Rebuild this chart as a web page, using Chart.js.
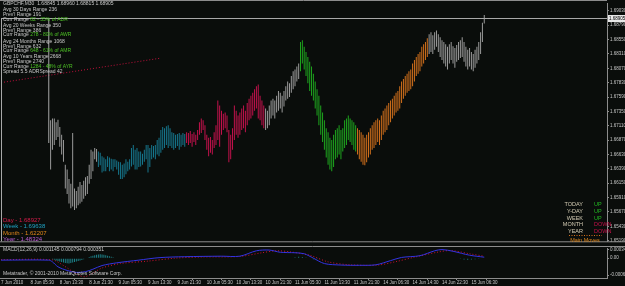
<!DOCTYPE html>
<html lang="en">
<head>
<meta charset="UTF-8">
<title>GBPCHF,M30</title>
<script src="https://cdn.jsdelivr.net/npm/chart.js@4/dist/chart.umd.min.js"></script>
<style>
  html, body { margin: 0; padding: 0; background: #0a0d0b; }
  #wrap { position: relative; width: 625px; height: 286px; overflow: hidden; background: #0a0d0b; }
  #price { position: absolute; left: 0; top: 0; }
  #macd { position: absolute; left: 0; top: 245px; }
</style>
</head>
<body>
<div id="wrap">
  <canvas id="price" width="625" height="245"></canvas>
  <canvas id="macd" width="625" height="41"></canvas>
</div>
<script>
// ---- price data (M30 bars, high / low), first drawn bar is index 27 ----
const firstBar = 27;
const barHigh = [
  1.6720,1.6723,1.6723,1.6717,1.6721,1.6709,1.6696,1.6687,1.6646,1.6638,
  1.6622,1.6614,1.6699,1.6606,1.6602,1.6609,1.6617,1.6612,1.6619,1.6625,
  1.6627,1.6646,1.6671,1.6668,1.6674,1.6672,1.6668,1.6666,1.6660,1.6658,
  1.6655,1.6660,1.6658,1.6656,1.6655,1.6655,1.6653,1.6651,1.6650,1.6646,
  1.6648,1.6655,1.6651,1.6655,1.6674,1.6679,1.6671,1.6674,1.6668,1.6668,
  1.6664,1.6671,1.6679,1.6679,1.6674,1.6679,1.6677,1.6679,1.6687,1.6691,
  1.6704,1.6709,1.6707,1.6710,1.6712,1.6707,1.6700,1.6699,1.6696,1.6697,
  1.6699,1.6696,1.6699,1.6697,1.6700,1.6699,1.6702,1.6697,1.6700,1.6696,
  1.6704,1.6717,1.6723,1.6720,1.6712,1.6696,1.6691,1.6692,1.6687,1.6700,
  1.6712,1.6753,1.6745,1.6736,1.6731,1.6733,1.6728,1.6704,1.6696,1.6707,
  1.6745,1.6736,1.6728,1.6733,1.6740,1.6745,1.6736,1.6749,1.6756,1.6761,
  1.6766,1.6772,1.6777,1.6780,1.6761,1.6753,1.6745,1.6740,1.6736,1.6745,
  1.6753,1.6756,1.6753,1.6761,1.6769,1.6766,1.6761,1.6769,1.6777,1.6785,
  1.6782,1.6794,1.6802,1.6805,1.6810,1.6815,1.6851,1.6854,1.6843,1.6834,
  1.6826,1.6818,1.6810,1.6798,1.6785,1.6772,1.6761,1.6745,1.6733,1.6720,
  1.6707,1.6700,1.6691,1.6687,1.6696,1.6704,1.6707,1.6712,1.6704,1.6707,
  1.6720,1.6723,1.6728,1.6723,1.6720,1.6717,1.6712,1.6707,1.6704,1.6700,
  1.6696,1.6691,1.6696,1.6700,1.6707,1.6712,1.6717,1.6720,1.6723,1.6720,
  1.6728,1.6736,1.6740,1.6745,1.6749,1.6753,1.6756,1.6761,1.6766,1.6769,
  1.6777,1.6785,1.6789,1.6794,1.6798,1.6802,1.6805,1.6815,1.6821,1.6826,
  1.6831,1.6834,1.6843,1.6847,1.6851,1.6857,1.6864,1.6867,1.6862,1.6867,
  1.6870,1.6864,1.6859,1.6854,1.6851,1.6847,1.6843,1.6847,1.6851,1.6844,
  1.6841,1.6846,1.6851,1.6854,1.6859,1.6851,1.6843,1.6838,1.6841,1.6834,
  1.6831,1.6838,1.6843,1.6851,1.6867,1.6883,1.6896
];
const barLow = [
  1.6638,1.6671,1.6679,1.6687,1.6692,1.6676,1.6663,1.6651,1.6606,1.6597,
  1.6581,1.6573,1.6576,1.6570,1.6573,1.6578,1.6581,1.6584,1.6589,1.6594,
  1.6597,1.6614,1.6622,1.6635,1.6655,1.6651,1.6642,1.6645,1.6633,1.6635,
  1.6635,1.6642,1.6635,1.6638,1.6635,1.6642,1.6638,1.6629,1.6622,1.6622,
  1.6625,1.6630,1.6635,1.6638,1.6643,1.6646,1.6638,1.6638,1.6642,1.6643,
  1.6646,1.6651,1.6655,1.6633,1.6642,1.6655,1.6658,1.6655,1.6663,1.6660,
  1.6666,1.6671,1.6674,1.6679,1.6674,1.6677,1.6674,1.6671,1.6674,1.6677,
  1.6671,1.6676,1.6679,1.6676,1.6682,1.6679,1.6682,1.6676,1.6684,1.6679,
  1.6687,1.6696,1.6699,1.6704,1.6687,1.6671,1.6660,1.6666,1.6663,1.6674,
  1.6679,1.6687,1.6676,1.6696,1.6704,1.6707,1.6700,1.6650,1.6655,1.6671,
  1.6687,1.6696,1.6691,1.6696,1.6704,1.6707,1.6700,1.6712,1.6720,1.6723,
  1.6728,1.6736,1.6740,1.6723,1.6720,1.6712,1.6707,1.6704,1.6707,1.6712,
  1.6723,1.6728,1.6723,1.6733,1.6736,1.6740,1.6733,1.6743,1.6753,1.6756,
  1.6759,1.6766,1.6772,1.6777,1.6785,1.6789,1.6802,1.6815,1.6805,1.6794,
  1.6782,1.6769,1.6761,1.6753,1.6740,1.6728,1.6712,1.6696,1.6684,1.6671,
  1.6658,1.6646,1.6638,1.6635,1.6642,1.6655,1.6658,1.6663,1.6655,1.6668,
  1.6674,1.6679,1.6687,1.6684,1.6679,1.6671,1.6668,1.6663,1.6655,1.6651,
  1.6646,1.6645,1.6650,1.6658,1.6663,1.6671,1.6674,1.6679,1.6684,1.6679,
  1.6687,1.6696,1.6700,1.6704,1.6712,1.6717,1.6723,1.6728,1.6733,1.6736,
  1.6740,1.6749,1.6756,1.6761,1.6766,1.6769,1.6772,1.6777,1.6785,1.6794,
  1.6798,1.6802,1.6810,1.6815,1.6821,1.6826,1.6831,1.6834,1.6831,1.6838,
  1.6843,1.6834,1.6826,1.6821,1.6815,1.6810,1.6805,1.6815,1.6821,1.6815,
  1.6808,1.6818,1.6821,1.6824,1.6826,1.6818,1.6810,1.6805,1.6810,1.6805,
  1.6802,1.6808,1.6815,1.6821,1.6831,1.6851,1.6882
];

// colour segments of the bars (start index + colour)
const segStart = [27, 53, 101, 144, 163, 194, 233];
const segColor = ['#9a9a9a', '#16778e', '#c2124c', '#9a9a9a', '#1ea51e', '#d2701c', '#9a9a9a'];

const bidPrice = 1.68905;
const markerX = [26];
const markerLow = [1.6682];
const trendX = [0, 87];
const trendY = [1.6783, 1.6824];

const yTicks = [1.69030,1.68790,1.68550,1.68310,1.68070,1.67830,1.67590,1.67350,1.67110,
                1.66870,1.66630,1.66390,1.66150,1.65910,1.65670,1.65430,1.65190];
const xLabels = ['7 Jun 2010','8 Jun 05:30','8 Jun 13:30','8 Jun 21:30','9 Jun 05:30','9 Jun 13:30',
                 '9 Jun 21:30','10 Jun 05:30','10 Jun 13:30','10 Jun 21:30','11 Jun 05:30','11 Jun 13:30',
                 '11 Jun 21:30','14 Jun 06:30','14 Jun 14:30','14 Jun 22:30','15 Jun 06:30'];

// ---- MACD panel ----
const macdX = [0,26,28,31,36,41,46,50,55,63,75,86,100,120,130,139,146,152,160,165,170,176,185,195,204,212,218,228,236,240,246,255,263];
const macdMain = [-0.00008,-0.00008,-0.00015,-0.00035,-0.0005,-0.00058,-0.00055,-0.00045,-0.0003,-0.00019,-0.00008,0.00002,
                  0.00006,0.00008,0.00008,0.0003,0.00033,0.00024,0.00022,0.00018,0,-0.00022,-0.00028,-0.00029,-0.00027,
                  -0.0001,0.00003,0.0001,0.0003,0.00035,0.00028,0.00012,0.00004];
const signalX = [0,28,34,42,46,55,65,80,95,110,130,142,150,158,168,178,190,205,215,225,238,245,255,263];
const signalVal = [-0.00006,-0.00007,-0.0003,-0.00068,-0.00075,-0.0004,-0.00022,-0.00012,0,0.00005,0.00007,0.00022,
                   0.0003,0.00025,0.00012,-0.00015,-0.00027,-0.00028,-0.00014,0.00004,0.00025,0.00031,0.00018,0.00008];
const histX = [28,29,30,31,32,33,34,35,36,37,38,39,40,41,42,43,44,45,
               48,49,50,51,52,53,54,55,56,57,58,59,60,61,62,
               160,162,164,166,168,170,172,
               250,252,254,256,258,260,262];
const histVal = [-0.00004,-0.00006,-0.00009,-0.00012,-0.00014,-0.00016,-0.00018,-0.0002,-0.00021,-0.00022,-0.0002,-0.00018,-0.00016,-0.00014,-0.00012,-0.0001,-0.00007,-0.00004,
                 0.00005,0.00008,0.0001,0.00012,0.00014,0.00015,0.00016,0.00015,0.00014,0.00012,0.0001,0.00008,0.00006,0.00004,0.00002,
                 0.00004,0.00006,0.00005,0.00003,-0.00002,-0.00004,-0.00003,
                 -0.00003,-0.00005,-0.00006,-0.00005,-0.00004,-0.00003,-0.00002];
const macdTicks = [0.000346, 0, -0.000687];

const FONT = '"Liberation Sans", Arial, sans-serif';
const AXIS = '#8c8c8c';
const TXT = '#c8c8c8';
const X_MAX = 329.8;

function segColorFor(idx) {
  let c = segColor[0];
  segStart.forEach((s, k) => { if (idx >= s) c = segColor[k]; });
  return c;
}

function text(ctx, s, x, y, color, size, align) {
  ctx.font = size + 'px ' + FONT;
  ctx.fillStyle = color;
  ctx.textAlign = align || 'left';
  ctx.textBaseline = 'middle';
  ctx.fillText(s, x, y);
  return ctx.measureText(s).width;
}

const priceOverlay = {
  id: 'priceOverlay',
  afterDraw(chart) {
    const { ctx, chartArea: a, scales } = chart;
    ctx.save();
    ctx.strokeStyle = AXIS;
    ctx.lineWidth = 1;
    ctx.beginPath();
    ctx.moveTo(0, 0.5); ctx.lineTo(a.right, 0.5);
    ctx.moveTo(0, a.bottom + 0.5); ctx.lineTo(625, a.bottom + 0.5);
    ctx.stroke();

    // bid line
    const yb = Math.round(scales.y.getPixelForValue(bidPrice)) + 0.5;
    ctx.strokeStyle = '#a8a8a8';
    ctx.beginPath();
    ctx.moveTo(a.left, yb); ctx.lineTo(a.right, yb);
    ctx.moveTo(1.5, yb); ctx.lineTo(1.5, a.bottom);
    ctx.stroke();
    ctx.fillStyle = '#e8e8e8';
    ctx.fillRect(608, yb - 3.5, 17, 7);
    text(ctx, bidPrice.toFixed(5), 609, yb, '#000', 4.5);

    // range info block
    const G = '#4cc024';
    text(ctx, 'GBPCHF,M30  1.68845 1.68960 1.68815 1.68905', 3, 4, TXT, 5);
    const block = [
      ['Avg 30 Days Range 236', ''], ["Prev'l Range 191", ''], ['Curr Range ', '82 - 35% of ADR'],
      ['Avg 20 Weeks Range 350', ''], ["Prev'l Range 386", ''], ['Curr Range ', '278 - 80% of AWR'],
      ['Avg 24 Months Range 1068', ''], ["Prev'l Range 632", ''], ['Curr Range ', '648 - 61% of AMR'],
      ['Avg 10 Years Range 2668', ''], ["Prev'l Range 2740", ''], ['Curr Range ', '1284 - 48% of AYR']
    ];
    const ys = [10, 15, 20, 26, 31, 35, 42, 47, 51, 57, 62, 67];
    block.forEach((b, k) => {
      const w = text(ctx, b[0], 3, ys[k], TXT, 5);
      if (b[1]) text(ctx, b[1], 3 + w, ys[k], G, 5);
    });
    text(ctx, 'Spread 5.5 ADRSpread 42', 3, 72, TXT, 5);

    // pivot legend
    text(ctx, 'Day - 1.68927', 3, 220, '#d41c4a', 6);
    text(ctx, 'Week - 1.69638', 3, 226.5, '#1fa3c4', 6);
    text(ctx, 'Month - 1.62207', 3, 233, '#e0861a', 6);
    text(ctx, 'Year - 1.48324', 3, 239.5, '#b85cd0', 6);

    // trend table
    const rows = [['TODAY', 'UP'], ['Y-DAY', 'UP'], ['WEEK', 'UP'], ['MONTH', 'DOWN'], ['YEAR', 'DOWN']];
    const ry = [204, 211, 218, 224.5, 231];
    rows.forEach((r, k) => {
      text(ctx, r[0], 583, ry[k], '#d4ccb4', 5.5, 'right');
      text(ctx, r[1], 594, ry[k], r[1] === 'UP' ? '#22b822' : '#c8104a', 5.5);
    });
    ctx.strokeStyle = '#d2701c';
    ctx.setLineDash([1, 1.5]);
    ctx.beginPath(); ctx.moveTo(569, 235.5); ctx.lineTo(602, 235.5); ctx.stroke();
    ctx.setLineDash([]);
    text(ctx, 'Main Moves', 585, 240, '#e0861a', 5.5, 'center');
    ctx.restore();
  }
};

const macdOverlay = {
  id: 'macdOverlay',
  afterDraw(chart) {
    const { ctx, chartArea: a } = chart;
    ctx.save();
    ctx.strokeStyle = AXIS;
    ctx.beginPath();
    ctx.moveTo(0, 1.5); ctx.lineTo(625, 1.5);
    ctx.moveTo(0, a.bottom + 0.5); ctx.lineTo(a.right, a.bottom + 0.5);
    ctx.stroke();
    text(ctx, 'MACD(12,26,9) 0.001145 0.000794 0.000351', 3, 5, TXT, 5);
    text(ctx, 'Metatrader, \u00a9 2001-2010 MetaQuotes Software Corp.', 3, 29, TXT, 5);
    ctx.restore();
  }
};

function rightAxis(min, max, ticks, fmt) {
  return {
    position: 'right', min: min, max: max,
    afterFit(s) { s.width = 18; },
    afterBuildTicks(s) { s.ticks = ticks.map(v => ({ value: v })); },
    ticks: { autoSkip: false, color: TXT, padding: 1, font: { family: FONT, size: 4.5 }, callback: fmt },
    grid: { drawOnChartArea: false, color: AXIS, tickLength: 2 },
    border: { color: AXIS }
  };
}

new Chart(document.getElementById('price'), {
  type: 'bar',
  data: {
    datasets: [
      {
        data: barHigh.map((h, i) => ({ x: firstBar + i, y: [barLow[i], h] })),
        backgroundColor: c => segColorFor(firstBar + c.dataIndex),
        barThickness: 1, grouped: false, inflateAmount: 0
      },
      {
        data: markerX.map((x, i) => ({ x: x, y: [markerLow[i], bidPrice] })),
        backgroundColor: '#a8a8a8', barThickness: 1, grouped: false, inflateAmount: 0
      },
      {
        type: 'line',
        data: trendX.map((x, i) => ({ x: x, y: trendY[i] })),
        borderColor: '#c0103c', borderWidth: 1, borderDash: [1, 2], pointRadius: 0
      }
    ]
  },
  options: {
    responsive: false, animation: false,
    layout: { padding: { left: 1, top: 1, bottom: 1, right: 0 } },
    plugins: { legend: { display: false }, tooltip: { enabled: false } },
    scales: {
      x: { type: 'linear', min: 0, max: X_MAX, offset: false, display: false },
      y: rightAxis(1.65179, 1.69149, yTicks, v => v.toFixed(5))
    }
  },
  plugins: [priceOverlay]
});

new Chart(document.getElementById('macd'), {
  type: 'bar',
  data: {
    datasets: [
      {
        data: histX.map((x, i) => ({ x: x, y: histVal[i] })),
        backgroundColor: '#1d8088', barThickness: 1, grouped: false, inflateAmount: 0
      },
      {
        type: 'line',
        data: macdX.map((x, i) => ({ x: x, y: macdMain[i] })),
        borderColor: '#3434e0', borderWidth: 1, pointRadius: 0, tension: 0.3
      },
      {
        type: 'line',
        data: signalX.map((x, i) => ({ x: x, y: signalVal[i] })),
        borderColor: '#d01030', borderWidth: 1, borderDash: [1, 2], pointRadius: 0, tension: 0.3
      }
    ]
  },
  options: {
    responsive: false, animation: false,
    layout: { padding: { left: 1, top: 2, bottom: 0, right: 0 } },
    plugins: { legend: { display: false }, tooltip: { enabled: false } },
    scales: {
      x: {
        type: 'linear', min: 0, max: X_MAX, offset: false,
        afterFit(s) { s.height = 8; },
        afterBuildTicks(s) { s.ticks = xLabels.map((l, i) => ({ value: i * 16 })); },
        ticks: {
          autoSkip: false, maxRotation: 0, align: 'start', padding: 0, color: TXT,
          font: { family: FONT, size: 4.5 }, callback: (v, i) => xLabels[i]
        },
        grid: { drawOnChartArea: false, color: AXIS, tickLength: 2 },
        border: { color: AXIS }
      },
      y: rightAxis(-0.000807, 0.000385, macdTicks, v => v === 0 ? '0.00' : v.toFixed(6))
    }
  },
  plugins: [macdOverlay]
});
</script>
</body>
</html>
